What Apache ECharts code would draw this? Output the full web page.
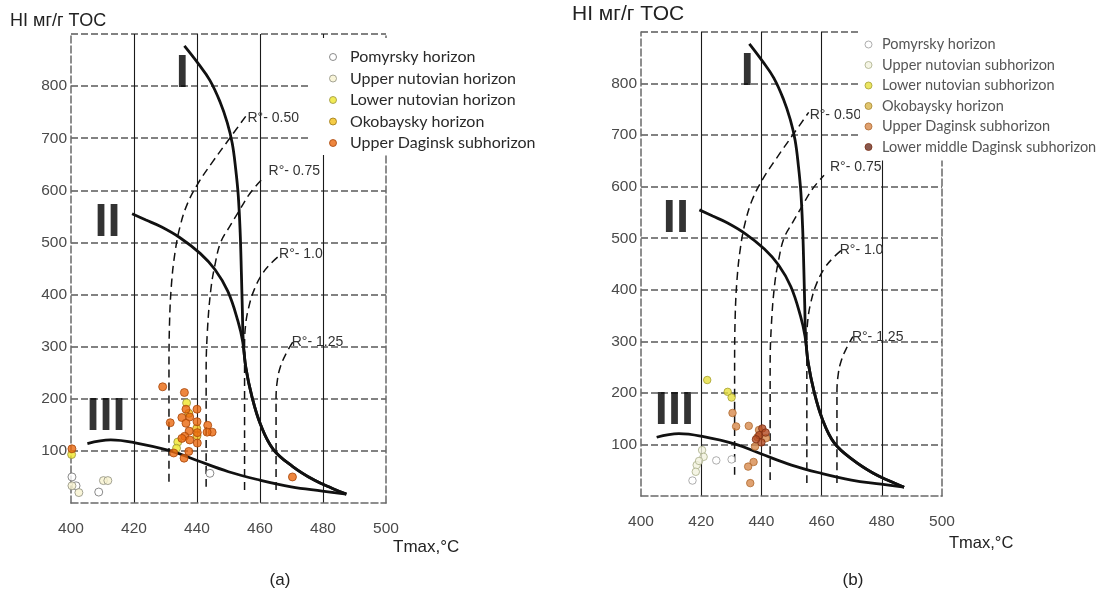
<!DOCTYPE html>
<html><head><meta charset="utf-8">
<script src="https://cdn.jsdelivr.net/npm/echarts@6/dist/echarts.min.js"></script>
<style>html,body{margin:0;padding:0;background:#fff}#c{width:1108px;height:592px}</style>
</head><body><div id="c"></div>
<script>
// ---- Axis ticks ----
const xMin = 400, xMax = 500, xStep = 20;
const yMin = 0, yMax = 900, yStep = 100;

// ---- Kerogen type curves (shared template) [Tmax, HI] ----
const curveI = [[436,877],[440.4,843],[444.1,811],[447.3,770],[449.6,730],[451.2,690],[452.3,640],[453.1,590],[453.7,520],[454.1,440],[454.4,370],[454.7,310],[455.5,260],[457.4,205],[460.2,150],[464.2,103],[470.4,70],[477.2,44],[483,28],[487.4,17]];
const curveII = [[419.4,555],[423.8,543],[428.3,531],[434.6,509],[441,479],[445.7,448],[449.8,406],[453,349],[454.5,310],[455.5,260],[457.4,205],[460.2,150],[464.2,103],[470.4,70],[477.2,44],[483,28],[487.4,17]];
const curveIII = [[405.2,114],[412.6,121],[420,116],[431.6,100],[439.8,82],[450,60],[459.9,44],[469.9,31],[479.8,23],[487.4,17]];

// ---- Vitrinite reflectance iso-lines ----
const r050 = [[431.1,41],[431.1,250],[431.3,350],[431.9,420],[433,480],[434.6,530],[437,575],[440.5,615],[445,655],[450.4,700],[455.7,744]];
const r075 = [[442.9,31],[442.9,250],[443.3,330],[444.4,410],[445.8,460],[447.5,500],[450.3,530],[453.3,560],[456.9,595],[460.8,622]];
const r100 = [[455.1,25],[455.1,300],[455.4,340],[456.4,375],[458.2,410],[461,442],[464,463],[467,479]];
const r125 = [[465.1,25],[465.1,200],[465.5,235],[466.5,262],[468.3,287],[470.4,309]];
const rNames = ['R°- 0.50','R°- 0.75','R°- 1.0','R°- 1.25'];

// ---- Kerogen type labels [Tmax, HI, text] ----
const typeLabels = [[435.3,823,'I'],[411.6,538,'II'],[411.1,165,'III']];

// ---- Panel (a) samples ----
const namesA = ['Pomyrsky horizon','Upper nutovian horizon','Lower nutovian horizon','Okobaysky horizon','Upper Daginsk subhorizon'];
const pomyrskyA = [[400.3,50],[401.6,33],[408.8,21],[444.1,57]];
const upperNutA = [[400.3,33],[402.5,20],[410.3,43],[411.7,43]];
const lowerNutA = [[400.2,93],[436.7,192],[433.9,117],[433.5,105]];
const okobayskyA = [[439.9,143],[440,129],[437.4,172]];
const upperDagA = [[400.3,104],[429.1,223],[436,212],[436.5,180],[440,180],[431.5,154],[435.2,164],[437.7,165],[436.5,153],[440,156],[443.4,149],[444.8,136],[443.2,136],[440.1,135],[437.5,138],[436.1,128],[437.7,121],[435.2,124],[440.1,115],[437.4,99],[432.6,96],[435.9,86],[470.3,50]];

// ---- Panel (b) samples ----
const namesB = ['Pomyrsky horizon','Upper nutovian subhorizon','Lower nutovian subhorizon','Okobaysky horizon','Upper Daginsk subhorizon','Lower middle Daginsk subhorizon'];
const pomyrskyB = [[417.1,30],[425,69],[430.1,71]];
const upperNutB = [[420.3,89],[420.8,76],[418.5,60],[419.3,68],[418.2,47]];
const lowerNutB = [[422,225],[428.8,202],[430.1,191]];
const okobayskyB = [];
const upperDagB = [[430.4,161],[431.6,135],[435.8,136],[437.4,66],[435.6,57],[436.3,25],[438.7,114],[437.9,96],[441.5,112],[439.2,128]];
const lowerMidB = [[440.3,131],[439.3,118],[441.4,123],[440,104],[438.2,110]];

const stylesA = [
  {color:'#ffffff', borderColor:'#6e6e6e'},
  {color:'#f8f3cf', borderColor:'#8e8e80'},
  {color:'#efe62a', borderColor:'#9a9440'},
  {color:'#f2bf18', borderColor:'#9a7410'},
  {color:'#ea680e', borderColor:'#a8460a'}
];
const stylesB = [
  {color:'#ffffff', borderColor:'#9a9a9a'},
  {color:'#f2f2df', borderColor:'#a9ae88'},
  {color:'#e6de3c', borderColor:'#a6a030'},
  {color:'#d9b64a', borderColor:'#a88830'},
  {color:'#d78a4c', borderColor:'#b06a30'},
  {color:'#b24a22', borderColor:'#7a2e14'}
];
const legendColorB5 = '#6a2e22';
const rLabelOffsets = [[0,3],[5,-8],[-4,1],[-2,0]];

const chart = echarts.init(document.getElementById('c'), null, {renderer:'canvas'});
const FONT = 'Liberation Sans';

function axesFor(p) {
  const xa = {
    type:'value', gridIndex:p, min:xMin, max:xMax, interval:xStep,
    axisLine:{show:true, lineStyle:{color:'#6a6a6a', width:1.5, type:[7,3]}},
    axisTick:{show:false},
    axisLabel:{margin:18, fontSize:15.5, color:'#4a4a4a', fontFamily:FONT},
    splitLine:{show:true, showMinLine:false, showMaxLine:false, lineStyle:{color:'#1a1a1a', width:1.1, type:'solid'}}
  };
  const yl = {
    type:'value', gridIndex:p, min:yMin, max:yMax, interval:yStep, position:'left',
    axisLine:{show:true, lineStyle:{color:'#6a6a6a', width:1.5, type:[7,3]}},
    axisTick:{show:false},
    axisLabel:{margin:4, fontSize:15.5, color:'#4a4a4a', fontFamily:FONT, showMinLabel:false, showMaxLabel:false, padding:[8,0,0,0]},
    splitLine:{show:true, showMinLine:false, showMaxLine:true, lineStyle:{color:'#5a5a5a', width:1.5, type:[7,3]}}
  };
  const yr = {
    type:'value', gridIndex:p, min:yMin, max:yMax, interval:yStep, position:'right',
    axisLine:{show:true, lineStyle:{color:'#6a6a6a', width:1.5, type:[7,3]}},
    axisTick:{show:false}, axisLabel:{show:false}, splitLine:{show:false}
  };
  return {xa, yl, yr};
}
const axA = axesFor(0), axB = axesFor(1);

function templateSeries(p) {
  const xi = p, yi = p*2;
  const s = [];
  [curveI, curveII, curveIII].forEach((d,i) => s.push({
    name:'curve'+p+'_'+i, type:'line', xAxisIndex:xi, yAxisIndex:yi, data:d,
    smooth:0.4, symbol:'none', lineStyle:{color:'#111', width:2.8}, z:3, silent:true
  }));
  [r050, r075, r100, r125].forEach((d,i) => s.push({
    name:'ro'+p+'_'+i, type:'line', xAxisIndex:xi, yAxisIndex:yi, data:d,
    smooth:0.4, symbol:'none', lineStyle:{color:'#111', width:1.5, type:[8,5]}, z:3, silent:true,
    endLabel:{show:true, formatter:rNames[i], distance:1, offset:rLabelOffsets[i], color:'#333', fontSize:14, fontFamily:FONT}
  }));
  s.push({
    name:'types'+p, type:'scatter', xAxisIndex:xi, yAxisIndex:yi, data:typeLabels,
    symbolSize:1, itemStyle:{color:'rgba(0,0,0,0)'}, z:5, silent:true,
    label:{show:true, position:'inside', formatter:q => q.value[2], fontSize:47, fontWeight:'bold', fontFamily:FONT, color:'#000'}
  });
  return s;
}

function sampleSeries(p, names, datas, styles, size) {
  return names.map((n,i) => ({
    name:n, type:'scatter', xAxisIndex:p, yAxisIndex:p*2, data:datas[i],
    symbol:'circle', symbolSize:size, z:6,
    itemStyle:{color:styles[i].color, borderColor:styles[i].borderColor, borderWidth:1}
  }));
}

const series = [].concat(
  templateSeries(0), templateSeries(1),
  sampleSeries(0, namesA, [pomyrskyA, upperNutA, lowerNutA, okobayskyA, upperDagA], stylesA, 8),
  sampleSeries(1, namesB, [pomyrskyB, upperNutB, lowerNutB, okobayskyB, upperDagB, lowerMidB], stylesB, 7.5)
);

const option = {
  animation:false,
  backgroundColor:'#ffffff',
  grid:[
    {left:71, top:34, width:315, height:469},
    {left:641, top:32, width:301, height:464}
  ],
  xAxis:[axA.xa, axB.xa],
  yAxis:[axA.yl, axA.yr, axB.yl, axB.yr],
  title:[
    {text:'HI мг/г TOC', left:10, top:12, padding:0, textStyle:{fontSize:18, fontWeight:'normal', color:'#222', fontFamily:FONT}},
    {text:'HI мг/г TOC', left:572, top:4, padding:0, textStyle:{fontSize:21, fontWeight:'normal', color:'#222', fontFamily:FONT}},
    {text:'Tmax,°C', left:393, top:539, padding:0, textStyle:{fontSize:17, fontWeight:'normal', color:'#222', fontFamily:FONT}},
    {text:'Tmax,°C', left:949, top:535, padding:0, textStyle:{fontSize:16.5, fontWeight:'normal', color:'#222', fontFamily:FONT}},
    {text:'(a)', left:280, textAlign:'center', top:572, padding:0, textStyle:{fontSize:17, fontWeight:'normal', color:'#222', fontFamily:FONT}},
    {text:'(b)', left:853, textAlign:'center', top:572, padding:0, textStyle:{fontSize:17, fontWeight:'normal', color:'#222', fontFamily:FONT}}
  ],
  legend:[
    {
      orient:'vertical', left:309, top:38, padding:[11,12,4,20],
      backgroundColor:'#ffffff', itemWidth:24, itemHeight:7, itemGap:5.5,
      selectedMode:false, icon:'circle',
      textStyle:{fontFamily:'Lato', fontSize:16, color:'#2a2a2a', lineHeight:16},
      data:namesA.map((n,i) => ({name:n, itemStyle:{color:stylesA[i].color, borderColor:stylesA[i].borderColor, borderWidth:1}}))
    },
    {
      orient:'vertical', left:860, top:0, padding:[37,10,6,4.5],
      backgroundColor:'#ffffff', itemWidth:17, itemHeight:7, itemGap:5.5,
      selectedMode:false, icon:'circle',
      textStyle:{fontFamily:'Lato', fontSize:14.5, color:'#555', lineHeight:15},
      data:namesB.map((n,i) => ({name:n, itemStyle:{color:(i===5?legendColorB5:stylesB[i].color), borderColor:stylesB[i].borderColor, borderWidth:1}}))
    }
  ],
  series:series
};
chart.setOption(option);
</script>
</body></html>
